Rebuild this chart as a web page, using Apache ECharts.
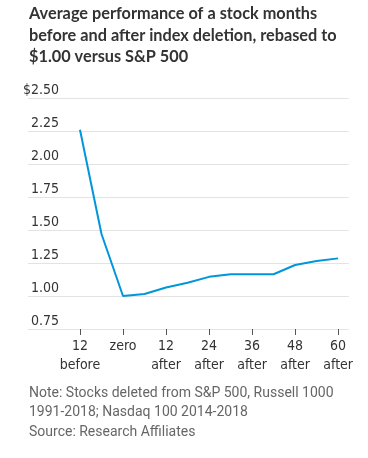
<!DOCTYPE html>
<html>
<head>
<meta charset="utf-8">
<script src="https://cdn.jsdelivr.net/npm/echarts@6/dist/echarts.min.js"></script>
<style>
html,body{margin:0;padding:0;background:#fff;}
#c{width:356px;height:458px;overflow:hidden;}
</style>
</head>
<body>
<div id="c"></div>
<script>
const titleLines = ["Average performance of a stock months", "before and after index deletion, rebased to", "$1.00 versus S&P 500"];
const noteLines = ["Note: Stocks deleted from S&P 500, Russell 1000", "1991-2018; Nasdaq 100 2014-2018", "Source: Research Affiliates"];
const months = [-12, -6, 0, 6, 12, 18, 24, 30, 36, 42, 48, 54, 60];
const values = [2.26, 1.47, 1.00, 1.015, 1.065, 1.10, 1.145, 1.165, 1.165, 1.165, 1.235, 1.265, 1.285];
const xTickValues = [-12, 0, 12, 24, 36, 48, 60];
const xTickLabels = ["12\nbefore", "zero", "12\nafter", "24\nafter", "36\nafter", "48\nafter", "60\nafter"];
const yMin = 0.75, yMax = 2.5, yStep = 0.25;

const narrow = '"Liberation Sans Narrow", "DejaVu Sans Condensed", sans-serif';
const chart = echarts.init(document.getElementById('c'));
const graphics = [];
titleLines.forEach((t, i) => graphics.push({
  type: 'text', left: 29, top: 6 + i * 21.5,
  style: { text: t, font: 'bold 16.3px Lato, sans-serif', fill: '#333' }
}));
noteLines.forEach((t, i) => graphics.push({
  type: 'text', left: 29, top: 386 + i * 19.5,
  style: { text: t, font: '14px Roboto, sans-serif', fill: '#666' }
}));
chart.setOption({
  animation: false,
  graphic: graphics,
  grid: { left: 28, right: 1, top: 98, bottom: 129, containLabel: false },
  xAxis: {
    type: 'value', min: -26.5, max: 63,
    splitLine: { show: false },
    axisLine: { show: false },
    axisTick: { show: true, length: 6, customValues: xTickValues, lineStyle: { color: '#555', width: 1 } },
    axisLabel: {
      customValues: xTickValues,
      formatter: v => xTickLabels[xTickValues.indexOf(v)],
      fontFamily: narrow, fontSize: 14, color: '#333', lineHeight: 19, margin: 8
    }
  },
  yAxis: {
    type: 'value', min: yMin, max: yMax, interval: yStep,
    axisLine: { show: false }, axisTick: { show: false },
    splitLine: { lineStyle: { color: '#e3e3e3', width: 1 } },
    axisLabel: {
      margin: -31, align: 'right', verticalAlign: 'bottom', padding: [0, 0, 1, 0],
      fontFamily: narrow, fontSize: 14, color: '#333',
      formatter: v => (Math.abs(v - yMax) < 1e-9 ? '$' : '') + v.toFixed(2)
    }
  },
  series: [{
    type: 'line', data: months.map((m, i) => [m, values[i]]),
    showSymbol: false, lineStyle: { color: '#0096d9', width: 2 },
    itemStyle: { color: '#0096d9' }
  }]
});
</script>
</body>
</html>
